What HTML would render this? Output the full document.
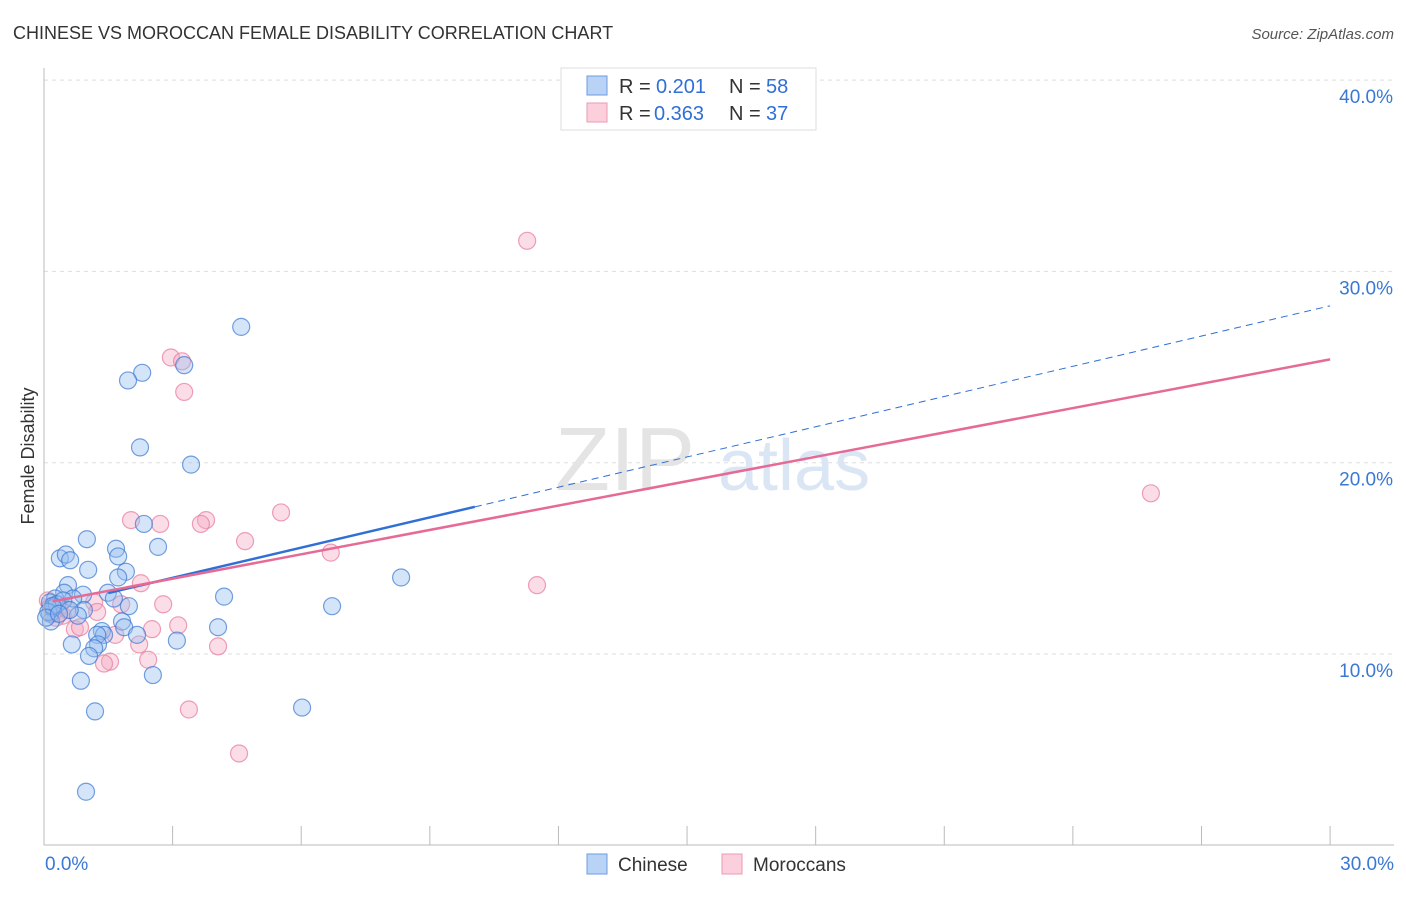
<!DOCTYPE html>
<html><head><meta charset="utf-8"><style>
body{margin:0;background:#fff;font-family:"Liberation Sans",sans-serif;}
svg text{font-family:"Liberation Sans",sans-serif;}
</style></head><body>
<svg id="chart" width="1406" height="892" viewBox="0 0 1406 892" xmlns="http://www.w3.org/2000/svg">
<text x="13" y="39" font-size="18" fill="#333">CHINESE VS MOROCCAN FEMALE DISABILITY CORRELATION CHART</text>
<text x="1394" y="39" font-size="15" fill="#555" font-style="italic" text-anchor="end">Source: ZipAtlas.com</text>
<text transform="translate(34,456) rotate(-90)" font-size="18" fill="#333" text-anchor="middle">Female Disability</text>
<g id="grid"></g>
<g><text x="555" y="490" font-size="90" fill="#e4e4e4" font-family="Liberation Serif">ZIP</text><text x="718" y="490" font-size="72" fill="#dbe6f5">atlas</text></g>
<g id="points"></g>
<g id="trends"></g>
<g id="axes"></g>
<g>
<rect x="561" y="68" width="255" height="62" fill="#fff" stroke="#ddd"/>
<rect x="587" y="76" width="20" height="19" fill="#b8d3f5" stroke="#6b9be0"/>
<rect x="587" y="103" width="20" height="19" fill="#fbd0dc" stroke="#ee9ab3"/>
<text y="93" font-size="20" fill="#333"><tspan x="619">R =</tspan><tspan x="656" fill="#2f6fd6">0.201</tspan><tspan x="729">N =</tspan><tspan x="766" fill="#2f6fd6">58</tspan></text>
<text y="120" font-size="20" fill="#333"><tspan x="619">R =</tspan><tspan x="654" fill="#2f6fd6">0.363</tspan><tspan x="729">N =</tspan><tspan x="766" fill="#2f6fd6">37</tspan></text>
</g>
<g>
<rect x="587" y="854" width="20" height="20" fill="#b8d3f5" stroke="#6b9be0"/>
<text x="618" y="871" font-size="19" fill="#333">Chinese</text>
<rect x="722" y="854" width="20" height="20" fill="#fbd0dc" stroke="#ee9ab3"/>
<text x="753" y="871" font-size="19" fill="#333">Moroccans</text>
</g>
</svg>
<script>
const yTicks=[10,20,30,40];
const yTickLabels=["10.0%","20.0%","30.0%","40.0%"];
const xTickCount=10;
const chineseX=[4.6,2.29,1.96,3.27,2.24,3.43,2.33,1.0,2.66,1.68,0.37,0.51,0.61,1.73,1.03,1.91,1.73,8.33,0.56,4.2,1.49,0.47,0.91,1.63,0.68,0.26,0.14,6.72,1.98,0.93,0.79,0.14,0.21,1.82,0.16,1.87,4.06,1.35,2.17,1.4,1.24,3.1,0.65,1.26,1.17,1.05,2.54,0.86,6.02,1.19,0.98,0.3,0.1,0.45,0.2,0.05,0.6,0.35];
const chineseY=[27.1,24.7,24.3,25.1,20.8,19.9,16.8,16.0,15.6,15.5,15.0,15.2,14.9,15.1,14.4,14.3,14.0,14.0,13.6,13.0,13.2,13.2,13.1,12.9,12.9,12.9,12.7,12.5,12.5,12.3,12.0,12.1,12.4,11.7,11.7,11.4,11.4,11.2,11.0,11.0,11.0,10.7,10.5,10.5,10.3,9.9,8.9,8.6,7.2,7.0,2.8,12.6,12.2,12.8,12.5,11.9,12.3,12.1];
const moroccanX=[11.27,25.82,2.96,3.22,3.27,5.53,2.03,2.71,3.78,3.66,4.69,6.69,11.5,2.26,2.78,1.8,1.17,1.24,0.44,0.09,0.35,3.13,2.52,0.72,0.84,1.66,2.22,4.06,2.43,1.54,1.4,3.38,4.55,0.2,0.28,0.55,0.15];
const moroccanY=[31.6,18.4,25.5,25.3,23.7,17.4,17.0,16.8,17.0,16.8,15.9,15.3,13.6,13.7,12.6,12.6,12.7,12.2,12.0,12.8,12.4,11.5,11.3,11.3,11.4,11.0,10.5,10.4,9.7,9.6,9.5,7.1,4.8,12.1,11.9,12.3,12.5];
const chineseTrend=[0,12.4,30,28.2];const chineseSolidEnd=10.05;
const moroccanTrend=[0.2,12.75,30,25.4];
const X=v=>44+v*42.87, Y=v=>654-(v-10)*19.13;
const NS="http://www.w3.org/2000/svg";
function mk(t,a,p){const e=document.createElementNS(NS,t);for(const k in a)e.setAttribute(k,a[k]);p.appendChild(e);return e;}
const grid=document.getElementById('grid'),axes=document.getElementById('axes'),pts=document.getElementById('points'),tr=document.getElementById('trends');
yTicks.forEach((t,i)=>{
 const l=mk('line',{x1:44,x2:1394,y1:Y(t),y2:Y(t),stroke:'#ddd','stroke-dasharray':'4,4'},grid);
 
 
 const tx=mk('text',{x:1393,y:Y(t)+23,'font-size':19,fill:'#3a78d4','text-anchor':'end'},axes);tx.textContent=yTickLabels[i];
 
 
});
mk('line',{x1:44,x2:44,y1:68,y2:845,stroke:'#bbb'},axes);
mk('line',{x1:44,x2:1394,y1:845,y2:845,stroke:'#bbb'},axes);
for(let i=0;i<=xTickCount;i++){const tk=mk('line',{x1:X(i*3),x2:X(i*3),y1:826,y2:845,stroke:'#bbb'},axes);
 
 }
let t0=mk('text',{x:45,y:870,'font-size':19,fill:'#3a78d4'},axes);t0.textContent='0.0%';


let t1=mk('text',{x:1394,y:870,'font-size':19,fill:'#3a78d4','text-anchor':'end'},axes);t1.textContent='30.0%';


moroccanX.forEach((x,i)=>{const c=mk('circle',{cx:X(x),cy:Y(moroccanY[i]),r:8.5,fill:'rgba(246,170,195,0.4)',stroke:'rgba(232,120,155,0.7)','stroke-width':1.2},pts);
 
 });
chineseX.forEach((x,i)=>{const c=mk('circle',{cx:X(x),cy:Y(chineseY[i]),r:8.5,fill:'rgba(150,190,240,0.4)',stroke:'rgba(60,120,210,0.7)','stroke-width':1.2},pts);
 
 });
const cy=x=>chineseTrend[1]+(x-chineseTrend[0])*(chineseTrend[3]-chineseTrend[1])/(chineseTrend[2]-chineseTrend[0]);
let a=mk('line',{x1:X(1.5),y1:Y(cy(1.5)),x2:X(chineseSolidEnd),y2:Y(cy(chineseSolidEnd)),stroke:'#2f6fd6','stroke-width':2.5},tr);


let b=mk('line',{x1:X(chineseSolidEnd),y1:Y(cy(chineseSolidEnd)),x2:X(chineseTrend[2]),y2:Y(chineseTrend[3]),stroke:'#2f6fd6','stroke-width':1,'stroke-dasharray':'7,5'},tr);


let m=mk('line',{x1:X(moroccanTrend[0]),y1:Y(moroccanTrend[1]),x2:X(moroccanTrend[2]),y2:Y(moroccanTrend[3]),stroke:'#e66a96','stroke-width':2.5},tr);


</script>
</body></html>
